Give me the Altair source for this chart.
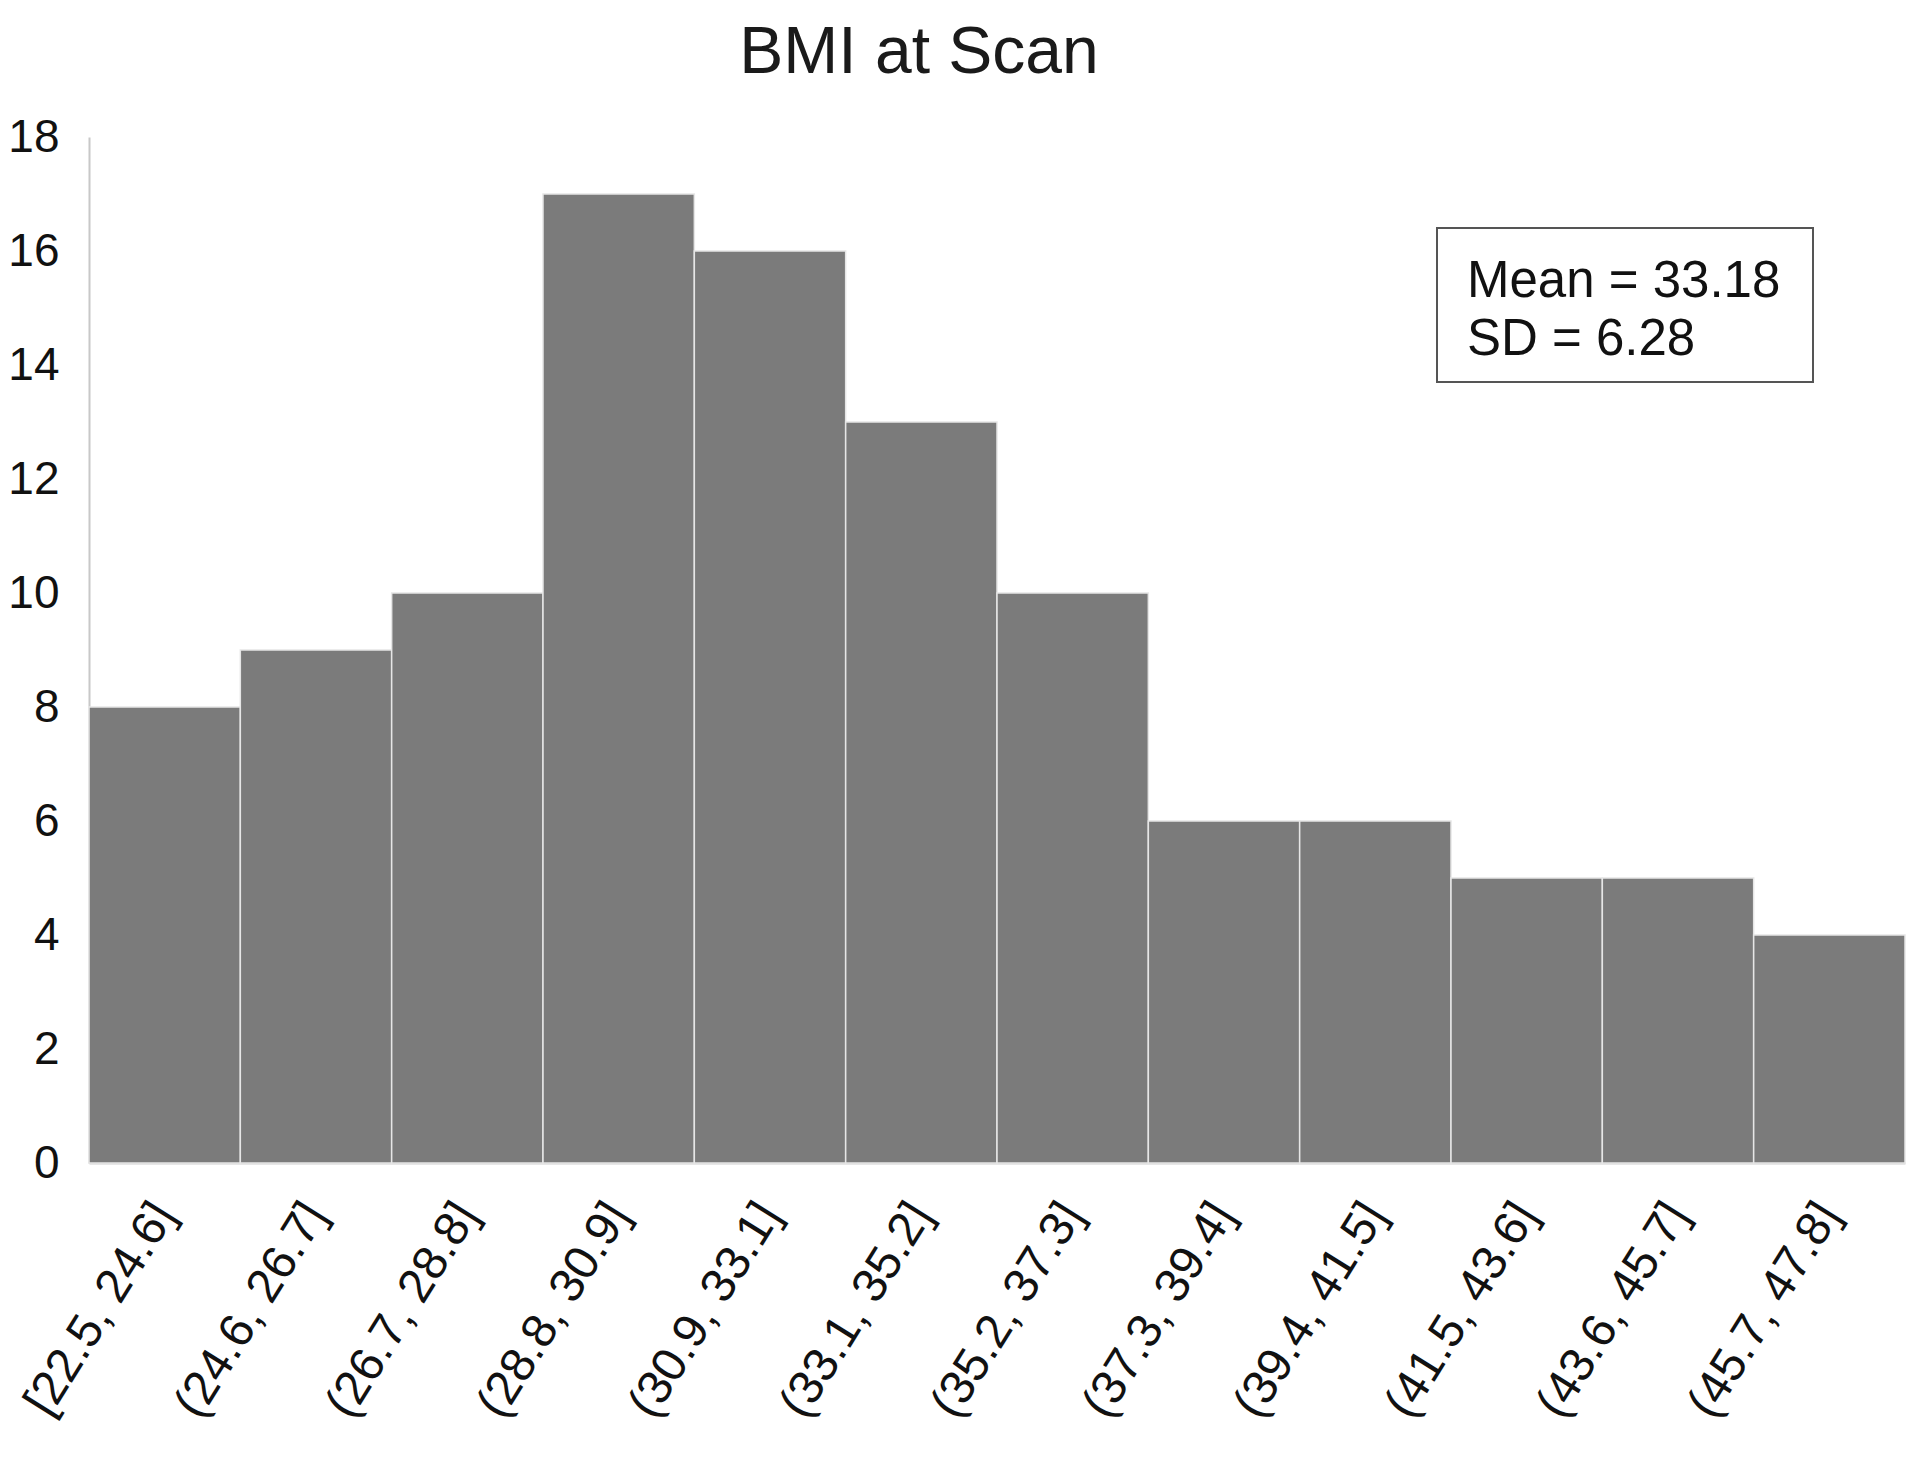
import altair as alt
import pandas as pd

bins = ["[22.5, 24.6]", "(24.6, 26.7]", "(26.7, 28.8]", "(28.8, 30.9]",
        "(30.9, 33.1]", "(33.1, 35.2]", "(35.2, 37.3]", "(37.3, 39.4]",
        "(39.4, 41.5]", "(41.5, 43.6]", "(43.6, 45.7]", "(45.7, 47.8]"]
counts = [8, 9, 10, 17, 16, 13, 10, 6, 6, 5, 5, 4]
stats_lines = ["Mean = 33.18", "SD = 6.28"]
title_text = ["BMI at Scan"]

df = pd.DataFrame({"bin": bins, "count": counts})
FONT = "Liberation Sans"

bars = alt.Chart(df).mark_bar(color="#7b7b7b", stroke="#e6e6e6", strokeWidth=1.5).encode(
    x=alt.X("bin:N", sort=bins, title=None,
            scale=alt.Scale(paddingInner=0, paddingOuter=0),
            axis=alt.Axis(labelAngle=-58, labelAlign="right", labelBaseline="middle",
                          labelFontSize=48, labelFont=FONT, labelColor="#111111",
                          labelPadding=44, ticks=False, domainColor="#d0d0d0",
                          domainWidth=2, labelOverlap=False, labelLimit=0)),
    y=alt.Y("count:Q", title=None,
            scale=alt.Scale(domain=[0, 18], nice=False),
            axis=alt.Axis(values=list(range(0, 19, 2)), labelFontSize=46, labelFont=FONT,
                          labelColor="#111111", labelPadding=30, ticks=False, grid=False,
                          domainColor="#c8c8c8", domainWidth=2))
)

box = alt.Chart(pd.DataFrame({"k": [0]})).mark_rect(
    fill="white", stroke="#555555", strokeWidth=2
).encode(x=alt.value(1348), x2=alt.value(1724), y=alt.value(91), y2=alt.value(245))

txt_df = pd.DataFrame({"t": stats_lines, "i": [0, 1]})
txt = alt.Chart(txt_df).mark_text(
    align="left", baseline="alphabetic", fontSize=51, font=FONT, color="#111111"
).encode(
    text="t:N",
    x=alt.value(1378),
    y=alt.Y("i:Q", scale=alt.Scale(domain=[0, 1], range=[160, 218]), axis=None),
)

title = alt.Chart(pd.DataFrame({"t": title_text})).mark_text(
    align="center", baseline="alphabetic", fontSize=66, font=FONT, color="#1a1a1a"
).encode(text="t:N", x=alt.value(830), y=alt.value(-64))

chart = alt.layer(bars, box, txt, title).resolve_scale(y="independent").properties(
    width=1816, height=1026,
    background="white",
    autosize=alt.AutoSizeParams(type="none"),
    padding={"left": 81, "top": 129, "right": 7, "bottom": 290},
).configure_view(stroke=None, strokeWidth=0)

chart.save("out.html", embed_options={"renderer": "svg", "actions": False})
